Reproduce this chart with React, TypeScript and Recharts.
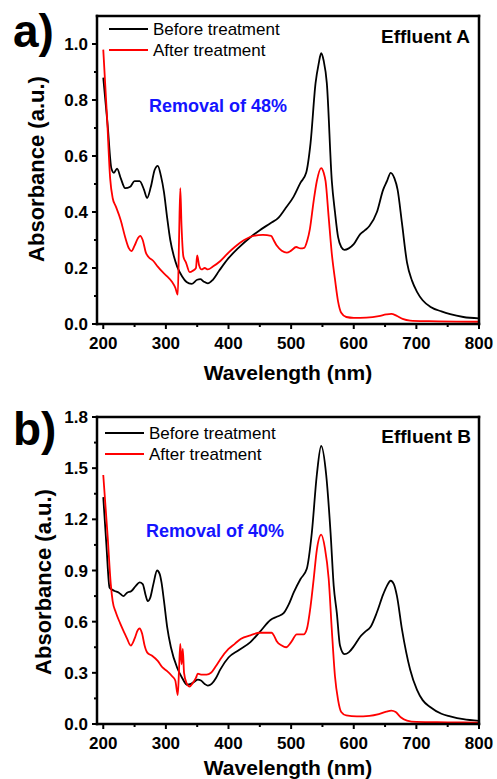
import React from 'react';
import { LineChart, Line, XAxis, YAxis } from 'recharts';

const FONT = '"Liberation Sans", Arial, Helvetica, sans-serif';

// axis ticks
const xTicks = [200, 250, 300, 350, 400, 450, 500, 550, 600, 650, 700, 750, 800];
const yTicksA = [0, 0.1, 0.2, 0.3, 0.4, 0.5, 0.6, 0.7, 0.8, 0.9, 1.0];
const yTicksB = [0, 0.15, 0.3, 0.45, 0.6, 0.75, 0.9, 1.05, 1.2, 1.35, 1.5, 1.65, 1.8];

// Effluent A - before treatment
const beforeAWl = [200, 207, 213, 217, 222, 228, 235, 243, 250, 258, 265, 270, 276, 282, 287, 292, 297, 302, 307, 313, 318, 326, 333, 341, 350, 355, 360, 367, 375, 385, 400, 415, 435, 450, 467, 480, 490, 504, 515, 524, 531, 539, 544, 548, 552, 557, 565, 570, 575, 580, 585, 592, 600, 610, 618, 625, 637, 647, 653, 659, 665, 670, 677, 685, 693, 701, 710, 722, 740, 754, 775, 800];
const beforeAAbs = [0.88, 0.71, 0.555, 0.54, 0.555, 0.52, 0.485, 0.49, 0.51, 0.51, 0.48, 0.45, 0.49, 0.55, 0.565, 0.53, 0.47, 0.38, 0.30, 0.24, 0.205, 0.17, 0.15, 0.143, 0.158, 0.16, 0.152, 0.145, 0.158, 0.19, 0.235, 0.27, 0.31, 0.335, 0.36, 0.38, 0.41, 0.455, 0.505, 0.54, 0.646, 0.86, 0.93, 0.967, 0.94, 0.86, 0.51, 0.40, 0.31, 0.275, 0.265, 0.27, 0.285, 0.32, 0.335, 0.35, 0.40, 0.48, 0.51, 0.54, 0.52, 0.48, 0.36, 0.22, 0.155, 0.115, 0.085, 0.062, 0.045, 0.035, 0.025, 0.02];

// Effluent A - after treatment
const afterAWl = [200, 206, 211, 215, 220, 228, 235, 241, 245, 250, 255, 259, 263, 268, 272, 280, 287, 295, 302, 310, 315, 319, 321, 323, 325, 328, 332, 338, 343, 348, 350, 353, 357, 362, 367, 375, 387, 400, 410, 425, 440, 455, 468, 472, 477, 485, 493, 500, 508, 515, 521, 526, 530, 536, 541, 548, 552, 555, 560, 565, 570, 575, 580, 588, 600, 620, 640, 652, 660, 668, 678, 690, 720, 800];
const afterAAbs = [0.98, 0.74, 0.52, 0.45, 0.42, 0.37, 0.31, 0.27, 0.26, 0.28, 0.305, 0.315, 0.30, 0.255, 0.24, 0.225, 0.205, 0.185, 0.17, 0.15, 0.13, 0.105, 0.30, 0.485, 0.35, 0.24, 0.22, 0.185, 0.19, 0.20, 0.245, 0.21, 0.195, 0.20, 0.195, 0.205, 0.225, 0.255, 0.275, 0.30, 0.315, 0.318, 0.315, 0.30, 0.28, 0.262, 0.255, 0.262, 0.275, 0.27, 0.272, 0.30, 0.34, 0.44, 0.51, 0.557, 0.54, 0.51, 0.38, 0.25, 0.16, 0.08, 0.04, 0.025, 0.022, 0.023, 0.028, 0.034, 0.036, 0.03, 0.018, 0.012, 0.01, 0.008];

// Effluent B - before treatment
const beforeBWl = [200, 205, 210, 213, 218, 225, 232, 238, 245, 252, 258, 263, 268, 271, 275, 280, 286, 290, 293, 297, 302, 308, 318, 326, 334, 340, 346, 351, 356, 362, 367, 373, 380, 387, 400, 415, 435, 450, 467, 478, 488, 496, 504, 515, 525, 533, 541, 548, 556, 563, 568, 573, 578, 585, 592, 600, 610, 618, 627, 637, 647, 653, 659, 664, 669, 677, 690, 701, 710, 722, 740, 754, 775, 800];
const beforeBAbs = [1.33, 1.05, 0.80, 0.79, 0.78, 0.77, 0.75, 0.77, 0.78, 0.81, 0.83, 0.82, 0.75, 0.72, 0.74, 0.82, 0.90, 0.88, 0.83, 0.72, 0.57, 0.45, 0.33, 0.27, 0.23, 0.235, 0.25, 0.26, 0.255, 0.235, 0.225, 0.235, 0.27, 0.32, 0.39, 0.43, 0.48, 0.54, 0.61, 0.63, 0.65, 0.70, 0.77, 0.85, 0.91, 1.12, 1.46, 1.63, 1.46, 1.12, 0.81, 0.65, 0.46, 0.41, 0.42, 0.455, 0.51, 0.54, 0.57, 0.655, 0.76, 0.81, 0.84, 0.82, 0.75, 0.555, 0.32, 0.2, 0.14, 0.1, 0.06, 0.045, 0.028, 0.018];

// Effluent B - after treatment
const afterBWl = [200, 207, 212, 215, 220, 227, 233, 238, 244, 250, 255, 258, 262, 266, 270, 278, 287, 295, 302, 310, 315, 319, 321, 323, 325, 327, 329, 333, 338, 343, 348, 351, 356, 365, 372, 380, 387, 400, 410, 420, 435, 450, 469, 473, 477, 485, 492, 500, 509, 520, 525, 531, 536, 541, 548, 554, 560, 565, 570, 575, 580, 588, 605, 625, 640, 652, 660, 667, 675, 685, 700, 750, 800];
const afterBAbs = [1.46, 1.10, 0.82, 0.72, 0.655, 0.59, 0.54, 0.50, 0.46, 0.50, 0.55, 0.56, 0.53, 0.46, 0.42, 0.40, 0.37, 0.33, 0.31, 0.28, 0.255, 0.17, 0.32, 0.47, 0.35, 0.44, 0.30, 0.24, 0.22, 0.24, 0.27, 0.295, 0.29, 0.29, 0.30, 0.34, 0.38, 0.44, 0.47, 0.50, 0.52, 0.535, 0.535, 0.515, 0.485, 0.46, 0.45, 0.48, 0.525, 0.525, 0.555, 0.69, 0.85, 1.02, 1.11, 1.03, 0.85, 0.55, 0.28, 0.14, 0.07, 0.05, 0.045, 0.048, 0.058, 0.072, 0.078, 0.07, 0.04, 0.02, 0.012, 0.01, 0.008];

const toPoints = (wl: number[], abs: number[]) => wl.map((w, i) => ({ wl: w, v: abs[i] }));

const axisStyle = { stroke: '#000', strokeWidth: 2.5, strokeLinecap: 'square' as const };

const XTick = (props: any) => {
  const { x, y, payload } = props;
  const major = payload.value % 100 === 0;
  return (
    <g>
      <line x1={x} x2={x} y1={y} y2={y + (major ? 5 : 3)} stroke="#000" strokeWidth={2} />
      {major && (
        <text x={x} y={y + 25} textAnchor="middle" fontSize={17} fontWeight="bold" fill="#000" fontFamily={FONT}>
          {payload.value}
        </text>
      )}
    </g>
  );
};

const makeYTick = (minor: number) => (props: any) => {
  const { x, y, payload } = props;
  const major = Math.round(payload.value / minor) % 2 === 0;
  return (
    <g>
      <line x1={x - (major ? 5 : 3)} x2={x} y1={y} y2={y} stroke="#000" strokeWidth={2} />
      {major && (
        <text x={x - 9} y={y} dy="0.36em" textAnchor="end" fontSize={17} fontWeight="bold" fill="#000" fontFamily={FONT}>
          {payload.value.toFixed(1)}
        </text>
      )}
    </g>
  );
};

interface PanelProps {
  top: number;
  height: number;
  marginTop: number;
  xAxisHeight: number;
  xLabelOffset: number;
  yMax: number;
  yTicks: number[];
  minor: number;
  before: { wl: number; v: number }[];
  after: { wl: number; v: number }[];
}

const Panel: React.FC<PanelProps> = ({ top, height, marginTop, xAxisHeight, xLabelOffset, yMax, yTicks, minor, before, after }) => (
  <div style={{ position: 'absolute', left: 0, top }}>
    <LineChart width={497} height={height} margin={{ top: marginTop, right: 18, left: 0, bottom: 0 }}>
      <XAxis
        dataKey="wl"
        type="number"
        domain={[190, 800]}
        ticks={xTicks}
        interval={0}
        tick={XTick}
        tickLine={false}
        tickSize={0}
        tickMargin={0}
        axisLine={axisStyle}
        height={xAxisHeight}
        allowDataOverflow
        label={{
          value: 'Wavelength (nm)',
          position: 'insideBottom',
          offset: xLabelOffset,
          fill: '#000',
          fontSize: 21,
          fontWeight: 'bold',
          fontFamily: FONT,
        }}
      />
      <YAxis
        type="number"
        domain={[0, yMax]}
        ticks={yTicks}
        interval={0}
        tick={makeYTick(minor)}
        tickLine={false}
        tickSize={0}
        tickMargin={0}
        axisLine={axisStyle}
        width={97}
        allowDataOverflow
      />
      <Line data={before} dataKey="v" type="monotone" stroke="#000" strokeWidth={1.8} dot={false} isAnimationActive={false} />
      <Line data={after} dataKey="v" type="monotone" stroke="#ff0000" strokeWidth={1.8} dot={false} isAnimationActive={false} />
    </LineChart>
  </div>
);

const Legend: React.FC<{ x: number; y1: number; y2: number }> = ({ x, y1, y2 }) => (
  <g fontFamily={FONT} fontSize={17}>
    <line x1={x} x2={x + 39} y1={y1} y2={y1} stroke="#000" strokeWidth={2} />
    <text x={x + 44} y={y1} dy="0.36em" fill="#000">Before treatment</text>
    <line x1={x} x2={x + 39} y1={y2} y2={y2} stroke="#ff0000" strokeWidth={2} />
    <text x={x + 44} y={y2} dy="0.36em" fill="#000">After treatment</text>
  </g>
);

// top and right edges of a plot box
const Frame: React.FC<{ left: number; top: number; right: number; bottom: number }> = ({ left, top, right, bottom }) => (
  <g stroke="#000" strokeWidth={2.5} strokeLinecap="square">
    <line x1={left} x2={right} y1={top} y2={top} />
    <line x1={right} x2={right} y1={top} y2={bottom} />
  </g>
);

export default function App() {
  return (
    <div style={{ position: 'absolute', left: 0, top: 0, width: 497, height: 779, background: '#fff', overflow: 'hidden' }}>
      <Panel
        top={0}
        height={390}
        marginTop={16}
        xAxisHeight={66}
        xLabelOffset={10}
        yMax={1.1}
        yTicks={yTicksA}
        minor={0.1}
        before={toPoints(beforeAWl, beforeAAbs)}
        after={toPoints(afterAWl, afterAAbs)}
      />
      <Panel
        top={400}
        height={379}
        marginTop={17}
        xAxisHeight={55}
        xLabelOffset={4}
        yMax={1.8}
        yTicks={yTicksB}
        minor={0.15}
        before={toPoints(beforeBWl, beforeBAbs)}
        after={toPoints(afterBWl, afterBAbs)}
      />
      <svg width={497} height={779} style={{ position: 'absolute', left: 0, top: 0, pointerEvents: 'none' }}>
        <Frame left={97} top={16} right={479} bottom={324} />
        <Frame left={97} top={417} right={479} bottom={724} />
        <g fontFamily={FONT} fontWeight="bold" fill="#000">
          <text x={13} y={47} fontSize={46}>a)</text>
          <text x={13} y={445} fontSize={46}>b)</text>
          <text x={470} y={43} fontSize={19} textAnchor="end">Effluent A</text>
          <text x={471} y={443} fontSize={19} textAnchor="end">Effluent B</text>
          <text x={44} y={169} fontSize={22} textAnchor="middle" transform="rotate(-90 44 169)">Absorbance (a.u.)</text>
          <text x={51} y={582} fontSize={22} textAnchor="middle" transform="rotate(-90 51 582)">Absorbance (a.u.)</text>
          <text x={149} y={112} fontSize={18} fill="#1414ff">Removal of 48%</text>
          <text x={146} y={537} fontSize={18} fill="#1414ff">Removal of 40%</text>
        </g>
        <Legend x={109} y1={29} y2={50} />
        <Legend x={105} y1={433} y2={454} />
      </svg>
    </div>
  );
}
